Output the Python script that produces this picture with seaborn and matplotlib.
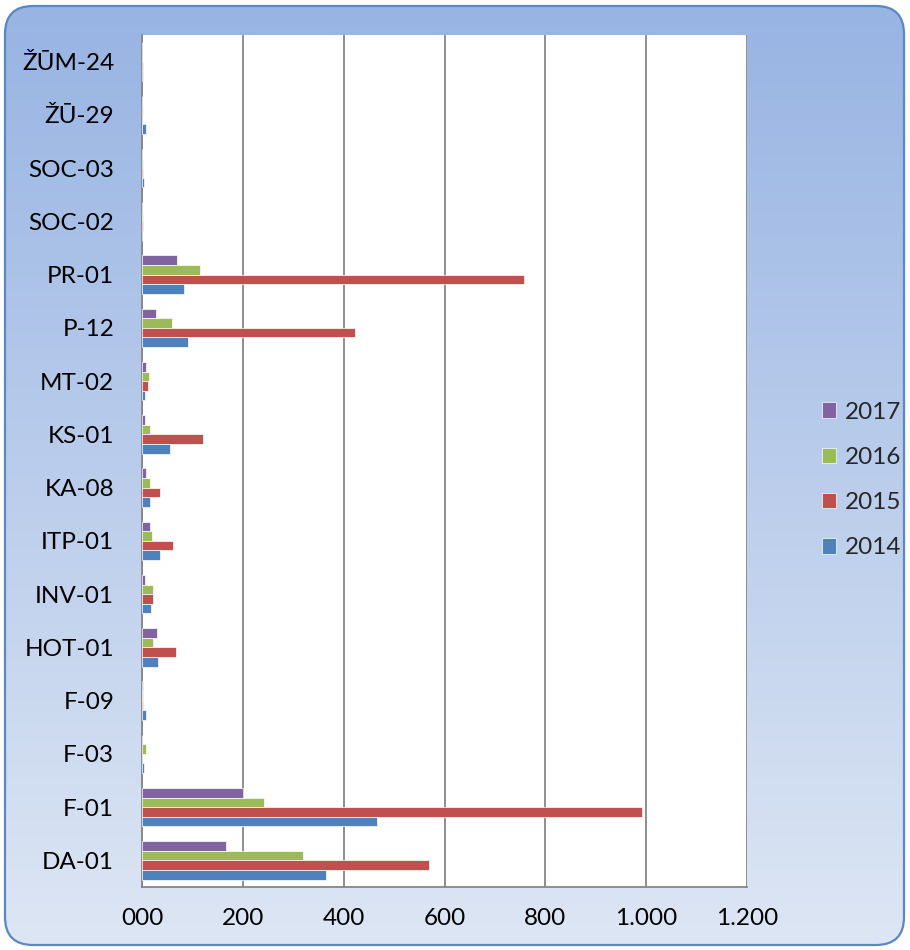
import numpy as np
import pandas as pd
import matplotlib
matplotlib.use('Agg')
import matplotlib.pyplot as plt
from matplotlib.patches import FancyBboxPatch
from matplotlib.colors import LinearSegmentedColormap
import seaborn as sns

# categories, top to bottom as shown
categories = ['ŽŪM-24', 'ŽŪ-29', 'SOC-03', 'SOC-02', 'PR-01', 'P-12', 'MT-02', 'KS-01',
              'KA-08', 'ITP-01', 'INV-01', 'HOT-01', 'F-09', 'F-03', 'F-01', 'DA-01']

v2014 = [1, 7, 3, 0.5, 83, 91, 5, 56, 16, 35, 18, 31, 8, 3, 467, 364]
v2015 = [1, 0.5, 1.3, 1.3, 757, 422, 11, 120, 35, 62, 21, 67, 2, 0.5, 991, 569]
v2016 = [0.5, 2.7, 2.7, 1, 115, 59, 13, 15, 15, 19, 21, 21, 2, 8, 242, 319]
v2017 = [0.5, 0.5, 0.5, 0.5, 70, 28, 7, 5, 7, 15, 5, 30, 1, 0.5, 201, 167]

years = ['2017', '2016', '2015', '2014']
year_colors = ['#8064A2', '#9BBB59', '#C0504D', '#4F81BD']

x_ticks = [0, 200, 400, 600, 800, 1000, 1200]
x_labels = ['000', '200', '400', '600', '800', '1.000', '1.200']

df = pd.DataFrame({'category': categories, '2014': v2014, '2015': v2015,
                   '2016': v2016, '2017': v2017})
long_df = df.melt(id_vars='category', var_name='year', value_name='value')

sns.set_style('white')
plt.rcParams['font.family'] = ['Lato', 'DejaVu Sans']
fs = 17.5

W, H = 910, 950
fig = plt.figure(figsize=(W / 100, H / 100), dpi=100)
fig.patch.set_facecolor('white')

# background: rounded frame with vertical gradient
bg = fig.add_axes([0, 0, 1, 1])
bg.set_xlim(0, W)
bg.set_ylim(0, H)
bg.set_axis_off()
frame = FancyBboxPatch((5, 5), 899, 939, boxstyle='round,pad=0,rounding_size=28',
                       facecolor='none', edgecolor='#5B87C5', linewidth=1.6, zorder=3)
cmap = LinearSegmentedColormap.from_list('bgfill', ['#98B4E3', '#DDE6F4'])
grad = np.linspace(0, 1, 256).reshape(-1, 1)
img = bg.imshow(grad, cmap=cmap, aspect='auto', extent=[5, 904, 5, 944], zorder=1)
img.set_clip_path(frame)
bg.add_patch(frame)

ax = fig.add_axes([142 / W, 63 / H, 605 / W, 852 / H])
ax.set_facecolor('white')
sns.barplot(data=long_df, y='category', x='value', hue='year', order=categories,
            hue_order=years, palette=year_colors, saturation=1, orient='h', width=0.72,
            errorbar=None, edgecolor='white', linewidth=0.5, ax=ax, zorder=3)

ax.set_xlim(0, 1200)
ax.set_ylim(len(categories) - 0.5, -0.5)
ax.set_xticks(x_ticks)
ax.set_xticklabels(x_labels)
ax.set_xlabel('')
ax.set_ylabel('')

grid_c = '#868686'
ax.grid(axis='x', color=grid_c, linewidth=1.3, zorder=0)
ax.set_axisbelow(True)
for s in ['top', 'right']:
    ax.spines[s].set_visible(False)
for s in ['left', 'bottom']:
    ax.spines[s].set_color(grid_c)
    ax.spines[s].set_linewidth(1.3)

ax.set_yticks(np.arange(-0.5, len(categories), 1), minor=True)
ax.tick_params(axis='y', which='major', length=0, pad=20, labelsize=fs, labelcolor='black')
ax.tick_params(axis='y', which='minor', length=6, width=1.3, color=grid_c, direction='out')
ax.tick_params(axis='x', which='major', length=4, width=1.3, color=grid_c, pad=11,
               labelsize=fs, labelcolor='black', direction='out')

handles, labels = ax.get_legend_handles_labels()
ax.get_legend().remove()
fig.legend(handles, labels, loc='center left', bbox_to_anchor=(800 / W, 1 - 480 / H),
           frameon=False, fontsize=fs, handlelength=0.6, handleheight=0.6,
           handletextpad=0.35, labelspacing=1.0)

fig.savefig('out.png', dpi=100)
